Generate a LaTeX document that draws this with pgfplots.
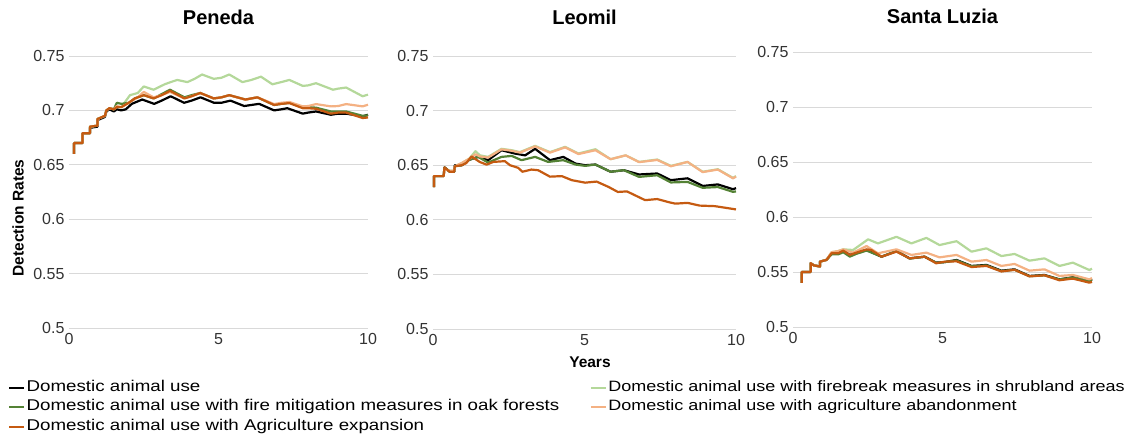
\documentclass[border=0pt]{standalone}
\usepackage{pgfplots}
\pgfplotsset{compat=1.18}
\usepackage{fontspec}
\setmainfont{Liberation Sans}
\newfontfamily\legfont{Liberation Sans}[FakeStretch=1.2]
\newcommand{\legA}{\legfont\fontsize{15.6}{19}\selectfont}
\newcommand{\legB}{\legfont\fontsize{15.0}{19}\selectfont}
\definecolor{cBlack}{HTML}{000000}
\definecolor{cLGreen}{HTML}{B4D89A}
\definecolor{cDGreen}{HTML}{548235}
\definecolor{cLOrange}{HTML}{F4B183}
\definecolor{cOrange}{HTML}{C55A11}
\definecolor{cGrid}{HTML}{D9D9D9}
\definecolor{cTick}{HTML}{333333}
\pgfplotsset{
  panel/.style={
    scale only axis, width=299pt, height=272pt,
    xmin=0, xmax=10, ymin=0.5, ymax=0.75,
    xtick={0,5,10}, xticklabels={0,5,10},
    ytick={0.5,0.55,0.6,0.65,0.7,0.75},
    yticklabels={0.5,0.55,0.6,0.65,0.7,0.75},
    ymajorgrids, grid style={cGrid, line width=0.9pt},
    axis line style={draw=none}, tick style={draw=none},
    ticklabel style={font=\fontsize{16}{19}\selectfont, text=cTick},
    yticklabel style={xshift=-1pt},
    xticklabel style={yshift=-2pt},
    title style={font=\fontsize{20}{24}\selectfont\bfseries, at={(0.5,1)}, anchor=center, yshift=33pt},
    clip=false,
    every axis plot/.append style={line width=2.2pt, line join=round},
  },
}
\begin{document}
\begin{tikzpicture}
\path[use as bounding box] (0,0) rectangle (1137pt,441pt);
\node[rotate=90, anchor=center, inner sep=0pt, font=\fontsize{15.5}{18}\selectfont\bfseries] at (18pt,223pt) {Detection Rates};
% ---------------- Peneda
\begin{axis}[panel, at={(69pt,113pt)}, anchor=south west,
  title={Peneda},
  legend columns=2,
  legend cell align=left,
  legend style={draw=none, fill=none, inner sep=0pt, at={(axis description cs:-0.204,-0.184)}, anchor=north west,
    row sep=0pt,
    nodes={inner ysep=0pt, inner xsep=1.5pt, text depth=6.5pt, text height=13pt},
    /tikz/every even column/.append style={column sep=29pt}},
  legend image code/.code={\draw[#1, line width=2pt] (0pt,0pt) -- (15pt,0pt);},
]
\addplot[cBlack] coordinates {(0.17,0.660)(0.17,0.670)(0.45,0.670)(0.45,0.679)(0.7,0.679)(0.7,0.684)(0.95,0.685)(0.95,0.691)(1.2,0.694)(1.25,0.699)(1.35,0.701)(1.5,0.699)(1.6,0.701)(1.75,0.700)(1.9,0.701)(2.1,0.706)(2.45,0.710)(2.85,0.706)(3.1,0.709)(3.4,0.713)(3.85,0.707)(4.1,0.709)(4.4,0.712)(4.85,0.707)(5.1,0.707)(5.4,0.709)(5.86,0.704)(6.1,0.705)(6.36,0.706)(6.86,0.700)(7.1,0.701)(7.3,0.702)(7.82,0.697)(8.0,0.698)(8.26,0.699)(8.76,0.696)(9.0,0.697)(9.27,0.697)(9.82,0.6945)(10.0,0.696)};
\addlegendentry{\legA Domestic animal use}
\addplot[cLGreen] coordinates {(0.17,0.660)(0.17,0.670)(0.45,0.670)(0.45,0.679)(0.7,0.679)(0.7,0.685)(0.95,0.686)(0.95,0.692)(1.2,0.695)(1.25,0.700)(1.35,0.702)(1.5,0.701)(1.6,0.703)(1.75,0.703)(2.04,0.714)(2.3,0.716)(2.5,0.722)(2.83,0.719)(3.2,0.724)(3.4,0.726)(3.62,0.728)(3.96,0.726)(4.2,0.729)(4.45,0.733)(4.84,0.729)(5.1,0.730)(5.36,0.733)(5.8,0.726)(6.1,0.728)(6.42,0.731)(6.8,0.724)(7.1,0.726)(7.37,0.728)(7.82,0.7225)(8.0,0.723)(8.26,0.725)(8.83,0.719)(9.0,0.720)(9.27,0.721)(9.82,0.713)(10.0,0.7145)};
\addlegendentry{\legB Domestic animal use with firebreak measures in shrubland areas}
\addplot[cDGreen] coordinates {(0.17,0.660)(0.17,0.670)(0.45,0.670)(0.45,0.679)(0.7,0.679)(0.7,0.685)(0.95,0.686)(0.95,0.692)(1.2,0.695)(1.25,0.700)(1.35,0.702)(1.5,0.701)(1.6,0.707)(1.75,0.706)(2.0,0.707)(2.2,0.711)(2.5,0.714)(2.83,0.711)(3.1,0.715)(3.38,0.719)(3.86,0.712)(4.1,0.714)(4.39,0.716)(4.84,0.711)(5.1,0.712)(5.36,0.714)(5.9,0.710)(6.1,0.711)(6.3,0.712)(6.86,0.705)(7.1,0.706)(7.37,0.707)(7.82,0.703)(8.0,0.703)(8.26,0.7025)(8.76,0.699)(9.0,0.699)(9.27,0.699)(9.82,0.695)(10.0,0.6955)};
\addlegendentry{\legA Domestic animal use with fire mitigation measures in oak forests}
\addplot[cLOrange] coordinates {(0.17,0.660)(0.17,0.670)(0.45,0.670)(0.45,0.679)(0.7,0.679)(0.7,0.685)(0.95,0.686)(0.95,0.692)(1.2,0.695)(1.25,0.700)(1.35,0.702)(1.5,0.701)(1.6,0.704)(1.75,0.703)(2.0,0.707)(2.3,0.712)(2.5,0.717)(2.83,0.712)(3.1,0.714)(3.38,0.717)(3.86,0.711)(4.1,0.713)(4.39,0.716)(4.84,0.711)(5.1,0.712)(5.36,0.714)(5.9,0.7098)(6.1,0.711)(6.3,0.712)(6.86,0.7058)(7.1,0.707)(7.37,0.7077)(7.82,0.7037)(8.0,0.704)(8.26,0.7058)(8.76,0.7037)(9.0,0.704)(9.27,0.7058)(9.82,0.7037)(10.0,0.7052)};
\addlegendentry{\legB Domestic animal use with agriculture abandonment}
\addplot[cOrange] coordinates {(0.17,0.660)(0.17,0.670)(0.45,0.670)(0.45,0.679)(0.7,0.679)(0.7,0.685)(0.95,0.686)(0.95,0.692)(1.2,0.695)(1.25,0.700)(1.35,0.702)(1.5,0.701)(1.6,0.703)(1.75,0.703)(2.0,0.707)(2.2,0.711)(2.5,0.714)(2.83,0.711)(3.1,0.714)(3.38,0.718)(3.86,0.711)(4.1,0.713)(4.39,0.716)(4.84,0.711)(5.1,0.712)(5.36,0.714)(5.9,0.710)(6.1,0.711)(6.3,0.712)(6.86,0.705)(7.1,0.706)(7.37,0.7067)(7.82,0.702)(8.0,0.702)(8.26,0.7015)(8.76,0.697)(9.0,0.698)(9.27,0.698)(9.82,0.693)(10.0,0.6935)};
\addlegendentry{\legA Domestic animal use with Agriculture expansion}
\end{axis}
% ---------------- Leomil
\begin{axis}[panel, at={(433pt,112pt)}, anchor=south west, width=303pt, height=273pt,
  title={Leomil},
  xlabel={\fontsize{15.5}{18}\selectfont\bfseries Years},
  xlabel style={at={(axis description cs:0.518,-0.121)}, anchor=center},
]
\addplot[cBlack] coordinates {(0.03,0.630)(0.03,0.640)(0.35,0.640)(0.38,0.648)(0.55,0.644)(0.7,0.644)(0.72,0.650)(0.95,0.650)(1.2,0.655)(1.49,0.6576)(1.82,0.6546)(2.26,0.6637)(2.7,0.6607)(3.04,0.659)(3.37,0.665)(3.86,0.6546)(4.3,0.6576)(4.7,0.6515)(5.02,0.650)(5.36,0.6506)(5.86,0.644)(6.3,0.6454)(6.8,0.6415)(7.4,0.6424)(7.85,0.6363)(8.4,0.638)(8.9,0.631)(9.4,0.6324)(9.9,0.628)(10.0,0.629)};
\addplot[cLGreen] coordinates {(0.03,0.630)(0.03,0.640)(0.35,0.640)(0.38,0.647)(0.55,0.645)(0.7,0.645)(0.72,0.649)(0.95,0.652)(1.2,0.656)(1.4,0.6628)(1.55,0.659)(1.82,0.6576)(2.26,0.665)(2.6,0.6637)(2.87,0.662)(3.37,0.6677)(3.86,0.662)(4.36,0.6668)(4.8,0.6607)(5.36,0.6646)(5.86,0.6555)(6.36,0.659)(6.8,0.653)(7.4,0.6552)(7.85,0.6494)(8.4,0.653)(8.9,0.644)(9.4,0.6463)(9.9,0.6384)(10.0,0.640)};
\addplot[cDGreen] coordinates {(0.03,0.630)(0.03,0.640)(0.35,0.640)(0.38,0.648)(0.55,0.644)(0.7,0.644)(0.72,0.649)(0.95,0.650)(1.2,0.655)(1.49,0.6576)(1.82,0.6524)(2.26,0.6576)(2.6,0.6585)(2.92,0.6546)(3.37,0.6576)(3.8,0.653)(4.3,0.6546)(4.7,0.6506)(5.02,0.6494)(5.36,0.6506)(5.86,0.644)(6.3,0.6454)(6.8,0.6393)(7.4,0.6408)(7.85,0.6342)(8.4,0.6347)(8.9,0.6293)(9.4,0.630)(9.9,0.6256)(10.0,0.626)};
\addplot[cLOrange] coordinates {(0.03,0.630)(0.03,0.640)(0.35,0.640)(0.38,0.646)(0.55,0.645)(0.7,0.645)(0.72,0.649)(0.95,0.652)(1.2,0.656)(1.4,0.660)(1.55,0.658)(1.82,0.657)(2.26,0.6645)(2.6,0.6632)(2.87,0.6615)(3.37,0.6672)(3.86,0.6615)(4.36,0.6663)(4.8,0.6602)(5.36,0.6637)(5.86,0.6555)(6.36,0.659)(6.8,0.6528)(7.4,0.6548)(7.85,0.649)(8.4,0.653)(8.9,0.6437)(9.4,0.646)(9.9,0.638)(10.0,0.6395)};
\addplot[cOrange] coordinates {(0.03,0.630)(0.03,0.640)(0.35,0.640)(0.38,0.648)(0.55,0.644)(0.7,0.644)(0.72,0.649)(0.95,0.650)(1.1,0.652)(1.27,0.658)(1.54,0.653)(1.77,0.6505)(1.99,0.653)(2.37,0.6537)(2.54,0.650)(2.81,0.6476)(2.95,0.644)(3.25,0.646)(3.47,0.6454)(3.86,0.6395)(4.25,0.640)(4.58,0.6363)(5.02,0.634)(5.4,0.635)(5.8,0.630)(6.1,0.6255)(6.4,0.626)(6.7,0.622)(7.0,0.618)(7.4,0.619)(7.8,0.616)(8.0,0.6148)(8.4,0.6155)(8.8,0.613)(9.3,0.6125)(9.7,0.6108)(10.0,0.6095)};
\end{axis}
% ---------------- Santa Luzia
\begin{axis}[panel, at={(793pt,114pt)}, anchor=south west, height=275pt,
  title={Santa Luzia}, title style={yshift=-3pt},
]
\addplot[cBlack] coordinates {(0.29,0.540)(0.29,0.550)(0.59,0.550)(0.59,0.558)(0.7,0.556)(0.9,0.555)(0.9,0.5594)(1.12,0.561)(1.29,0.567)(1.51,0.567)(1.68,0.5694)(1.9,0.5655)(2.12,0.5676)(2.46,0.5700)(2.96,0.5639)(3.46,0.569)(3.9,0.5624)(4.4,0.5639)(4.79,0.5585)(5.07,0.559)(5.47,0.5609)(5.97,0.5555)(6.47,0.5564)(6.97,0.5512)(7.41,0.5524)(7.91,0.5464)(8.41,0.5473)(8.91,0.5433)(9.36,0.5452)(9.91,0.5421)(10.0,0.5435)};
\addplot[cLGreen] coordinates {(0.29,0.540)(0.29,0.550)(0.59,0.550)(0.59,0.558)(0.7,0.556)(0.9,0.555)(0.9,0.5594)(1.12,0.561)(1.29,0.568)(1.51,0.569)(1.68,0.5706)(2.01,0.570)(2.51,0.5797)(2.84,0.576)(3.46,0.582)(3.96,0.576)(4.46,0.581)(4.9,0.5745)(5.47,0.578)(5.97,0.5685)(6.47,0.5715)(6.97,0.5645)(7.41,0.5664)(7.91,0.5603)(8.41,0.5624)(8.91,0.5555)(9.36,0.5585)(9.91,0.5518)(10.0,0.553)};
\addplot[cDGreen] coordinates {(0.29,0.540)(0.29,0.550)(0.59,0.550)(0.59,0.558)(0.7,0.556)(0.9,0.555)(0.9,0.5594)(1.12,0.561)(1.29,0.566)(1.51,0.566)(1.68,0.568)(1.9,0.564)(2.12,0.5665)(2.46,0.5695)(2.96,0.564)(3.46,0.569)(3.9,0.5622)(4.4,0.5639)(4.79,0.5583)(5.07,0.559)(5.47,0.5605)(5.97,0.5552)(6.47,0.556)(6.97,0.5508)(7.41,0.552)(7.91,0.5462)(8.41,0.547)(8.91,0.5432)(9.36,0.545)(9.91,0.542)(10.0,0.543)};
\addplot[cLOrange] coordinates {(0.29,0.540)(0.29,0.550)(0.59,0.550)(0.59,0.558)(0.7,0.556)(0.9,0.555)(0.9,0.5594)(1.12,0.561)(1.29,0.568)(1.51,0.569)(1.68,0.5706)(2.01,0.5676)(2.46,0.5736)(2.84,0.567)(3.46,0.5706)(3.96,0.5655)(4.46,0.5676)(4.9,0.5633)(5.47,0.5655)(5.97,0.5594)(6.47,0.5609)(6.97,0.5555)(7.41,0.5573)(7.91,0.5512)(8.41,0.5524)(8.91,0.5464)(9.36,0.5473)(9.91,0.5433)(10.0,0.5445)};
\addplot[cOrange] coordinates {(0.29,0.540)(0.29,0.550)(0.59,0.550)(0.59,0.558)(0.7,0.556)(0.9,0.555)(0.9,0.5594)(1.12,0.561)(1.29,0.567)(1.51,0.567)(1.68,0.5694)(1.9,0.5655)(2.12,0.5676)(2.46,0.5706)(2.62,0.570)(2.96,0.5639)(3.46,0.5685)(3.9,0.5624)(4.4,0.5639)(4.79,0.5579)(5.07,0.5594)(5.47,0.5597)(5.97,0.5545)(6.47,0.5555)(6.97,0.5505)(7.41,0.552)(7.91,0.546)(8.41,0.547)(8.91,0.5425)(9.36,0.544)(9.91,0.5403)(10.0,0.541)};
\end{axis}
\end{tikzpicture}
\end{document}
